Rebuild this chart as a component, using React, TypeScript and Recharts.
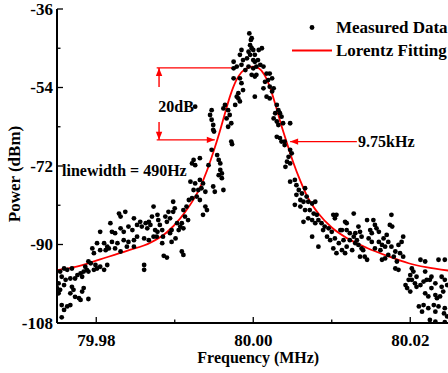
import React from 'react';
import {
  ComposedChart, Scatter, Line, XAxis, YAxis, ReferenceLine, ReferenceDot, Legend,
} from 'recharts';

// ---------- data (frequency in MHz, power in dBm) ----------
const xTicks = [79.98, 79.99, 80.0, 80.01, 80.02];
const yTicks = [-108, -99, -90, -81, -72, -63, -54, -45, -36];
const yMajor = [-108, -90, -72, -54, -36];

const measuredLeftTail: number[][] = [
  [79.9873, -81.3], [79.9878, -83.2], [79.9829, -82.9], [79.9837, -82.5], [79.9831, -83.6],
  [79.9848, -84.0], [79.9856, -84.8], [79.9863, -85.1], [79.9867, -84.8], [79.9852, -85.5],
  [79.9858, -85.9], [79.9865, -86.3], [79.9869, -85.5], [79.9805, -87.1], [79.9818, -85.1],
  [79.982, -87.1], [79.9824, -87.4], [79.9831, -86.3], [79.9835, -87.1], [79.9841, -85.9],
  [79.9846, -86.7], [79.9801, -89.7], [79.981, -89.7], [79.9814, -90.5], [79.982, -89.4],
  [79.9827, -89.7], [79.9835, -89.0], [79.9841, -89.4], [79.9848, -89.0], [79.9852, -88.2],
  [79.9861, -88.6], [79.9867, -89.0], [79.9873, -88.2], [79.9878, -87.1], [79.9795, -90.9],
  [79.9797, -92.0], [79.9805, -91.3], [79.9812, -91.3], [79.9816, -90.9], [79.9824, -90.9],
  [79.9831, -91.6], [79.9839, -90.5], [79.9848, -90.5], [79.979, -93.9], [79.9793, -94.3],
  [79.9799, -94.7], [79.9788, -95.8], [79.9784, -96.2], [79.978, -96.6], [79.9776, -97.0],
  [79.9782, -97.4], [79.9786, -95.1], [79.9797, -95.8], [79.9801, -95.5], [79.9805, -95.1],
  [79.981, -95.8], [79.9814, -94.7], [79.979, -96.2], [79.9861, -94.7], [79.9861, -95.8],
  [79.9759, -95.5], [79.9763, -95.8], [79.9769, -95.5], [79.9754, -96.2], [79.9756, -97.4],
  [79.9761, -98.1], [79.9767, -97.8], [79.9773, -97.8], [79.9752, -98.9], [79.9759, -99.3],
  [79.9769, -99.7], [79.9771, -100.4], [79.9784, -100.0], [79.9782, -100.8], [79.9767, -101.2],
  [79.9773, -102.0], [79.978, -102.7], [79.9778, -102.3], [79.979, -102.5], [79.975, -100.0],
  [79.9754, -100.4], [79.9752, -101.2], [79.9756, -103.9], [79.9763, -104.2], [79.9767, -103.9],
  [79.9759, -105.0], [79.9756, -106.7],
];

const measuredRise: number[][] = [
  [79.9973, -67.0], [79.995, -64.1], [79.9947, -68.3], [79.9954, -69.5], [79.9956, -70.6],
  [79.9958, -71.4], [79.9924, -70.6], [79.9922, -71.4], [79.9926, -71.8], [79.9932, -70.2],
  [79.9943, -71.8], [79.9958, -72.9], [79.996, -73.7], [79.9956, -74.1], [79.996, -74.8],
  [79.9962, -77.5], [79.9949, -76.7], [79.9951, -77.9], [79.992, -75.6], [79.9926, -76.0],
  [79.9932, -75.2], [79.9936, -76.0], [79.9934, -77.1], [79.9939, -77.9], [79.993, -77.5],
  [79.9924, -77.5], [79.9928, -79.0], [79.9932, -79.8], [79.9922, -79.4], [79.9918, -79.8],
  [79.9939, -81.3], [79.9941, -82.1], [79.9936, -83.2], [79.9911, -82.1], [79.9915, -81.3],
  [79.9913, -83.6], [79.9917, -84.4], [79.9909, -85.1], [79.9898, -80.2], [79.99, -81.7],
  [79.9898, -82.5], [79.9892, -82.5], [79.9894, -84.0], [79.9888, -83.6], [79.989, -84.8],
  [79.9881, -85.5], [79.9879, -84.4], [79.9871, -83.6], [79.9903, -85.1], [79.9907, -85.9],
  [79.9911, -86.3], [79.9905, -86.7], [79.9896, -86.7], [79.9894, -87.4], [79.9901, -88.6],
  [79.9885, -88.2], [79.9877, -88.2], [79.9875, -86.7], [79.9884, -86.7], [79.9884, -89.7],
  [79.9896, -89.4], [79.9909, -91.6], [79.9911, -92.4], [79.9886, -92.6], [79.989, -93.0],
];

const measuredPeak: number[][] = [
  [79.9995, -41.6], [79.9997, -43.1], [79.9998, -42.7], [79.9985, -45.4], [79.9983, -46.5],
  [79.9994, -45.8], [79.9998, -45.0], [79.9992, -47.3], [79.9987, -47.7], [80.0002, -46.5],
  [80.0007, -45.4], [79.9975, -48.1], [79.9979, -49.2], [79.9985, -48.8], [79.9975, -49.6],
  [79.999, -50.0], [79.9994, -49.2], [80.0, -49.6], [80.0004, -51.1], [80.0002, -48.1],
  [79.9975, -51.9], [79.9983, -51.9], [79.9985, -53.0], [79.9987, -54.6], [79.9981, -55.3],
  [79.9981, -56.5], [79.9983, -57.2], [79.9979, -56.1], [79.9977, -58.0], [80.0002, -56.1],
  [79.9964, -58.0], [79.9962, -58.8], [79.9968, -59.2], [79.997, -60.3], [79.9966, -61.1],
  [79.9972, -62.2], [79.9968, -63.0], [79.9947, -59.2], [79.9945, -60.3], [79.9947, -61.4],
  [79.9949, -62.6], [79.9949, -63.7], [79.9926, -58.4], [79.9972, -66.4],
  [79.9996, -44.3], [80.0, -45.4], [79.9996, -46.5], [80.0011, -45.0], [80.0, -47.7],
  [80.0006, -47.7], [80.0009, -48.8], [80.0004, -49.2], [80.0013, -49.2], [79.9998, -51.1],
  [80.0002, -51.5], [80.0017, -50.8], [80.0021, -50.8], [80.0019, -52.3], [80.0024, -51.9],
  [80.0015, -52.7], [80.0013, -54.2], [80.0021, -53.8], [80.0026, -54.2], [80.0024, -54.9],
  [80.0017, -56.1], [80.0021, -56.5], [80.003, -58.0], [80.0032, -59.2], [80.0028, -59.9],
  [80.0034, -59.9], [80.0036, -60.7], [80.0026, -61.1], [80.003, -61.8], [80.0032, -62.6],
  [80.0038, -62.2], [80.0047, -62.2], [80.003, -65.3], [80.0034, -65.6], [80.0036, -66.4],
  [80.004, -66.4],
];

const measuredFall: number[][] = [
  [80.004, -67.2], [80.0047, -68.3], [80.0049, -69.1], [80.0045, -69.9], [80.0043, -71.0],
  [80.0041, -72.2], [80.0047, -71.4], [80.0047, -75.6], [80.0053, -75.2], [80.0055, -76.4],
  [80.0058, -77.5], [80.0055, -78.6], [80.0062, -78.3], [80.0066, -77.1], [80.0068, -79.0],
  [80.006, -79.8], [80.0064, -80.2], [80.0053, -80.9], [80.006, -81.3], [80.007, -80.2],
  [80.0075, -80.6], [80.0079, -80.2], [80.0066, -82.1], [80.0072, -82.1], [80.0077, -82.9],
  [80.0081, -83.2], [80.0064, -84.8], [80.007, -84.0], [80.0075, -84.4], [80.0079, -85.1],
  [80.0083, -84.4], [80.0087, -85.1], [80.0091, -85.9], [80.0089, -86.7], [80.0096, -86.3],
  [80.01, -87.1], [80.0102, -83.2], [80.0106, -83.2], [80.0104, -84.0], [80.0075, -88.2],
  [80.0083, -90.5], [80.0094, -88.2], [80.0098, -89.0], [80.0104, -88.6], [80.0109, -89.7],
  [80.0102, -90.9], [80.0113, -91.3], [80.0119, -90.5], [80.0106, -92.0], [80.0117, -92.0],
  [80.0113, -86.7], [80.0119, -86.7], [80.0123, -87.4], [80.0128, -88.2], [80.0132, -89.0],
  [80.0117, -84.8], [80.0128, -82.9], [80.0119, -85.1], [80.0134, -85.9], [80.0136, -87.1],
  [80.0138, -88.2], [80.0134, -90.1], [80.014, -91.3], [80.0142, -92.8], [80.0126, -91.3],
  [80.013, -89.7], [80.0123, -89.0], [80.0115, -89.0], [80.0111, -86.7],
];

const measuredRightTail: number[][] = [
  [80.0176, -83.2], [80.0174, -85.5], [80.0177, -85.9], [80.0145, -84.4], [80.0153, -84.4],
  [80.0155, -85.5], [80.013, -87.4], [80.0149, -86.7], [80.0151, -87.4], [80.016, -87.1],
  [80.0157, -86.3], [80.0147, -88.6], [80.0151, -89.4], [80.016, -89.4], [80.0166, -88.6],
  [80.017, -87.8], [80.0172, -89.4], [80.0164, -90.1], [80.0168, -90.5], [80.0155, -90.9],
  [80.0162, -91.3], [80.0191, -88.2], [80.0189, -89.4], [80.0185, -90.1], [80.0176, -90.5],
  [80.0181, -91.6], [80.0187, -92.0], [80.0191, -92.8], [80.0179, -92.8], [80.0172, -92.4],
  [80.0168, -93.2], [80.0164, -93.5], [80.0138, -90.9], [80.0136, -92.8], [80.0145, -93.5],
  [80.0181, -95.5], [80.0185, -95.8], [80.0183, -93.9], [80.0213, -93.5], [80.0219, -93.9],
  [80.0236, -93.5], [80.0244, -93.5], [80.0202, -95.5], [80.0204, -96.2], [80.02, -97.0],
  [80.0208, -97.4], [80.0202, -98.1], [80.0206, -98.9], [80.0198, -98.1], [80.0194, -99.3],
  [80.0196, -100.0], [80.02, -100.8], [80.0208, -99.7], [80.0213, -99.3], [80.0217, -98.5],
  [80.0221, -98.1], [80.0225, -98.1], [80.0219, -96.2], [80.0232, -98.9], [80.0227, -100.0],
  [80.0219, -101.2], [80.0223, -101.9], [80.0232, -101.6], [80.0234, -102.3], [80.0238, -101.9],
  [80.024, -99.7], [80.0242, -100.8], [80.0244, -98.1], [80.0247, -99.3], [80.024, -97.4],
  [80.0227, -97.4], [80.0211, -104.2], [80.0217, -103.9], [80.0223, -104.6], [80.023, -103.9],
  [80.0236, -104.2], [80.0244, -104.6], [80.0215, -105.4], [80.0232, -105.4], [80.0243, -105.8],
  [80.0247, -106.5], [80.0225, -107.3], [80.0232, -107.7], [80.0244, -107.8],
];

// Lorentz fitting curve
const fitFreq = [
  79.975, 79.9775, 79.9805, 79.984, 79.9869, 79.989, 79.9907, 79.992, 79.9932, 79.9941,
  79.9949, 79.9957, 79.9964, 79.9971, 79.9978, 79.9985, 79.9993, 80.0, 80.0007, 80.0014,
  80.0021, 80.0028, 80.0035, 80.0043, 80.0051, 80.006, 80.007, 80.0083, 80.01, 80.012,
  80.0145, 80.0172, 80.0198, 80.022, 80.025,
];
const fitPower = [
  -95.9, -95.1, -93.4, -91.4, -89.6, -87.2, -84.0, -80.8, -77.0, -73.1,
  -68.9, -64.3, -59.9, -55.7, -52.5, -50.5, -49.5, -49.2, -49.6, -51.0,
  -53.8, -57.8, -62.2, -66.8, -71.2, -75.4, -79.4, -82.9, -86.1, -88.6,
  -90.8, -92.7, -94.3, -95.2, -96.0,
];

const seriesNames = ['Measured Data', 'Lorentz Fitting'];

// annotation anchors (data units)
const peakLevel = -49.5;
const lowLevel = -66.0;
const rightLevel = -66.4;
const annotations = [
  { text: '20dB', f: 79.9879, p: -58.4 },
  { text: '9.75kHz', f: 80.01335, p: -66.4 },
  { text: 'linewidth = 490Hz', f: 79.97564, p: -73.1 },
];

// ---------- build tables ----------
const measuredData = [
  ...measuredLeftTail, ...measuredRise, ...measuredPeak, ...measuredFall, ...measuredRightTail,
].map(([f, p]) => ({ f, p }));
const fitData = fitFreq.map((f, i) => ({ f, p: fitPower[i] }));

const FONT = '"Liberation Serif", "Times New Roman", serif';
const RED = '#ff0000';

const YTick = (props: any) => {
  const { x, y, payload } = props;
  const v = payload.value;
  const major = yMajor.includes(v);
  return (
    <g>
      <line x1={x} x2={x + (major ? 6 : 3.5)} y1={y} y2={y} stroke="#000" strokeWidth={1.3} />
      {major && (
        <text x={x - 4} y={y} dy="0.34em" textAnchor="end" fontFamily={FONT} fontWeight="bold" fontSize={17} fill="#000">
          {v}
        </text>
      )}
    </g>
  );
};

const XTick = (props: any) => {
  const { x, y, payload } = props;
  const v = payload.value as number;
  const major = Math.round(v * 100) % 2 === 0;
  return (
    <g>
      <line x1={x} x2={x} y1={y} y2={y - (major ? 6 : 3.5)} stroke="#000" strokeWidth={1.3} />
      {major && (
        <text x={x} y={y + 23} textAnchor="middle" fontFamily={FONT} fontWeight="bold" fontSize={17} fill="#000">
          {v.toFixed(2)}
        </text>
      )}
    </g>
  );
};

const TopTick = (props: any) => {
  const { x, y, payload } = props;
  const v = payload.value as number;
  const major = Math.round(v * 100) % 2 === 0;
  return <line x1={x} x2={x} y1={y} y2={y + (major ? 6 : 3.5)} stroke="#000" strokeWidth={1.3} />;
};

const arrowShape = (head: 'start' | 'end' | 'none') => (p: any) => {
  const { x1, y1, x2, y2 } = p;
  const dx = x2 - x1;
  const dy = y2 - y1;
  const len = Math.sqrt(dx * dx + dy * dy) || 1;
  const ux = dx / len;
  const uy = dy / len;
  const hl = 8;
  const hw = 3.2;
  let poly = null;
  if (head !== 'none') {
    const tx = head === 'end' ? x2 : x1;
    const ty = head === 'end' ? y2 : y1;
    const s = head === 'end' ? 1 : -1;
    const bx = tx - s * ux * hl;
    const by = ty - s * uy * hl;
    const pts = `${tx},${ty} ${bx - uy * hw},${by + ux * hw} ${bx + uy * hw},${by - ux * hw}`;
    poly = <polygon points={pts} fill={RED} />;
  }
  return (
    <g>
      <line x1={x1} y1={y1} x2={x2} y2={y2} stroke={RED} strokeWidth={1.4} />
      {poly}
    </g>
  );
};

const textShape = (text: string) => (p: any) => (
  <text x={p.cx} y={p.cy} dy="0.34em" fontFamily={FONT} fontWeight="bold" fontSize={16} fill="#000">
    {text}
  </text>
);

const LegendContent = (props: any) => {
  const payload = [...(props.payload || [])].sort(
    (a: any, b: any) => seriesNames.indexOf(a.value) - seriesNames.indexOf(b.value)
  );
  return (
    <div style={{ fontFamily: FONT, fontWeight: 'bold', fontSize: 17, color: '#000' }}>
      {payload.map((e: any) => (
        <div key={e.value} style={{ display: 'flex', alignItems: 'center', height: 23 }}>
          <svg width={44} height={23} style={{ display: 'block' }}>
            {e.type === 'line' ? (
              <line x1={2} x2={42} y1={11.5} y2={11.5} stroke={RED} strokeWidth={1.8} />
            ) : (
              <circle cx={22} cy={11.5} r={2.4} fill="#000" />
            )}
          </svg>
          <span style={{ marginLeft: 2, whiteSpace: 'nowrap', lineHeight: '23px' }}>{e.value}</span>
        </div>
      ))}
    </div>
  );
};

export default function App() {
  return (
    <div style={{ position: 'absolute', left: 0, top: 0, width: 448, height: 373, overflow: 'hidden', background: '#fff' }}>
      <ComposedChart width={460} height={373} margin={{ top: 9, right: 10.5, bottom: 0, left: 0 }}>
        <XAxis
          dataKey="f"
          type="number"
          domain={[79.975, 80.025]}
          allowDataOverflow
          ticks={xTicks}
          interval={0}
          tickSize={0}
          tickMargin={0}
          tick={<XTick />}
          tickLine={false}
          height={50}
          axisLine={{ stroke: '#000', strokeWidth: 2 }}
          label={{
            content: (lp: any) => {
              const vb = lp.viewBox;
              return (
                <text x={vb.x + vb.width / 2 + 5} y={vb.y + 40} textAnchor="middle" fontFamily={FONT} fontWeight="bold" fontSize={16} fill="#000">
                  Frequency (MHz)
                </text>
              );
            },
          }}
        />
        <XAxis
          xAxisId="top"
          orientation="top"
          dataKey="f"
          type="number"
          domain={[79.975, 80.025]}
          allowDataOverflow
          ticks={xTicks}
          interval={0}
          tickSize={0}
          tickMargin={0}
          tick={<TopTick />}
          tickLine={false}
          height={0}
          axisLine={{ stroke: '#000', strokeWidth: 1.6 }}
        />
        <YAxis
          dataKey="p"
          type="number"
          domain={[-108, -36]}
          allowDataOverflow
          ticks={yTicks}
          interval={0}
          tickSize={0}
          tickMargin={0}
          tick={<YTick />}
          tickLine={false}
          width={57}
          axisLine={{ stroke: '#000', strokeWidth: 2 }}
          label={{
            content: (lp: any) => {
              const vb = lp.viewBox;
              const cx = vb.x + 20;
              const cy = vb.y + vb.height / 2 + 8;
              return (
                <text x={cx} y={cy} transform={`rotate(-90, ${cx}, ${cy})`} textAnchor="middle" fontFamily={FONT} fontWeight="bold" fontSize={17} fill="#000">
                  Power (dBm)
                </text>
              );
            },
          }}
        />
        <Scatter
          name={seriesNames[0]}
          data={measuredData}
          dataKey="p"
          fill="#000"
          legendType="circle"
          isAnimationActive={false}
          shape={(sp: any) => <circle cx={sp.cx} cy={sp.cy} r={2.4} fill="#000" />}
        />
        <Line
          name={seriesNames[1]}
          data={fitData}
          dataKey="p"
          type="monotone"
          stroke={RED}
          strokeWidth={1.8}
          dot={false}
          legendType="line"
          isAnimationActive={false}
        />
        {/* 20 dB markers */}
        <ReferenceLine segment={[{ x: 79.9877, y: peakLevel }, { x: 79.9973, y: peakLevel }]} shape={arrowShape('none')} ifOverflow="visible" />
        <ReferenceLine segment={[{ x: 79.9877, y: lowLevel }, { x: 79.9951, y: lowLevel }]} shape={arrowShape('end')} ifOverflow="visible" />
        <ReferenceLine segment={[{ x: 79.988, y: -53.9 }, { x: 79.988, y: peakLevel }]} shape={arrowShape('end')} ifOverflow="visible" />
        <ReferenceLine segment={[{ x: 79.988, y: -61.9 }, { x: 79.988, y: lowLevel }]} shape={arrowShape('end')} ifOverflow="visible" />
        {/* 9.75 kHz marker */}
        <ReferenceLine segment={[{ x: 80.0132, y: rightLevel }, { x: 80.0047, y: rightLevel }]} shape={arrowShape('end')} ifOverflow="visible" />
        {annotations.map((a) => (
          <ReferenceDot key={a.text} x={a.f} y={a.p} r={0} ifOverflow="visible" shape={textShape(a.text)} />
        ))}
        <Legend
          layout="vertical"
          align="center"
          verticalAlign="middle"
          content={<LegendContent />}
          wrapperStyle={{ left: 290, top: 15.5, width: 170, height: 46 }}
        />
      </ComposedChart>
    </div>
  );
}
